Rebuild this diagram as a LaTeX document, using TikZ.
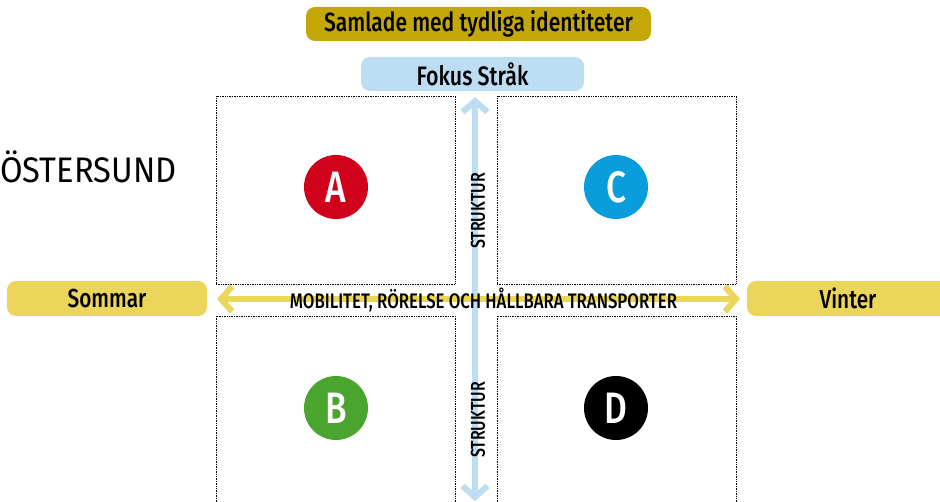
\documentclass[tikz,border=0pt]{standalone}
\usepackage{fontspec}
\setmainfont{Fira Sans}[FakeStretch=0.8, BoldFont={Fira Sans Medium}]
\newfontfamily\titlefont{Fira Sans}[FakeStretch=0.92]
\usetikzlibrary{arrows.meta}
\definecolor{gold}{HTML}{C4A808}
\definecolor{lblue}{HTML}{BDDDF2}
\definecolor{yel}{HTML}{EBD55A}
\definecolor{cred}{HTML}{D0021B}
\definecolor{cblue}{HTML}{0A9DDB}
\definecolor{cgreen}{HTML}{4AA52E}
\tikzset{
  pill/.style={rounded corners=9pt, inner sep=0pt, font=\fontsize{26}{27}\selectfont\bfseries},
  quad/.style={draw=black, densely dotted, line width=0.7pt, inner sep=0pt},
  letter/.style={circle, minimum size=64pt, inner sep=0pt, text=white, font=\fontsize{44}{44}\selectfont\bfseries},
  tip/.tip={Straight Barb[length=11pt,width=25pt,line width=6pt]},
  axis/.style={line width=6pt, tip-tip},
  axlabel/.style={font=\fontsize{20}{20}\selectfont\bfseries, inner sep=0pt},
}
\begin{document}
\begin{tikzpicture}[x=1pt,y=-1pt]
\useasboundingbox (0,0) rectangle (940,502);
% header pills
\node[pill, fill=gold, minimum width=345pt, minimum height=34pt, font=\fontsize{26.3}{27}\selectfont\bfseries] (samlade) at (478.5,24) {Samlade med tydliga identiteter};
\node[pill, fill=lblue, minimum width=223pt, minimum height=34pt, font=\fontsize{26.7}{27}\selectfont\bfseries] (fokus) at (472.5,74) {Fokus Stråk};
% quadrants
\node[quad, minimum width=239pt, minimum height=188pt] (qa) at (335.5,190) {};
\node[quad, minimum width=239pt, minimum height=188pt] (qc) at (616.5,190) {};
\node[quad, minimum width=239pt, minimum height=190pt] (qb) at (335.5,411) {};
\node[quad, minimum width=239pt, minimum height=190pt] (qd) at (616.5,411) {};
% side pills
\node[pill, fill=yel, minimum width=200pt, minimum height=35pt] (sommar) at (107,298.5) {Sommar};
\node[pill, fill=yel, minimum width=210pt, minimum height=35pt] (vinter) at (852,298.5) {\hspace*{-8pt}Vinter};
% axes
\coordinate (vtop) at (475,97);
\coordinate (vbot) at (475,501);
\coordinate (hl) at (217,299);
\coordinate (hr) at (740,299);
\draw[lblue, axis] (vbot) -- (vtop);
\draw[yel, axis] (hl) -- (hr);
\node[axlabel, font=\fontsize{21}{21}\selectfont\bfseries] (mob) at (483.5,300) {MOBILITET, RÖRELSE OCH HÅLLBARA TRANSPORTER};
\node[axlabel, rotate=90] (s1) at (478,211) {STRUKTUR};
\node[axlabel, rotate=90] (s2) at (478,420) {STRUKTUR};
% title
\node[anchor=west, font=\titlefont\fontsize{35.5}{36}\selectfont, inner sep=0pt] (ost) at (0,167) {ÖSTERSUND};
% circles
\node[letter, fill=cred] (A) at (336,187) {A};
\node[letter, fill=cblue] (C) at (616,187) {C};
\node[letter, fill=cgreen] (B) at (336,408) {B};
\node[letter, fill=black] (D) at (616,408) {D};
\end{tikzpicture}
\end{document}
